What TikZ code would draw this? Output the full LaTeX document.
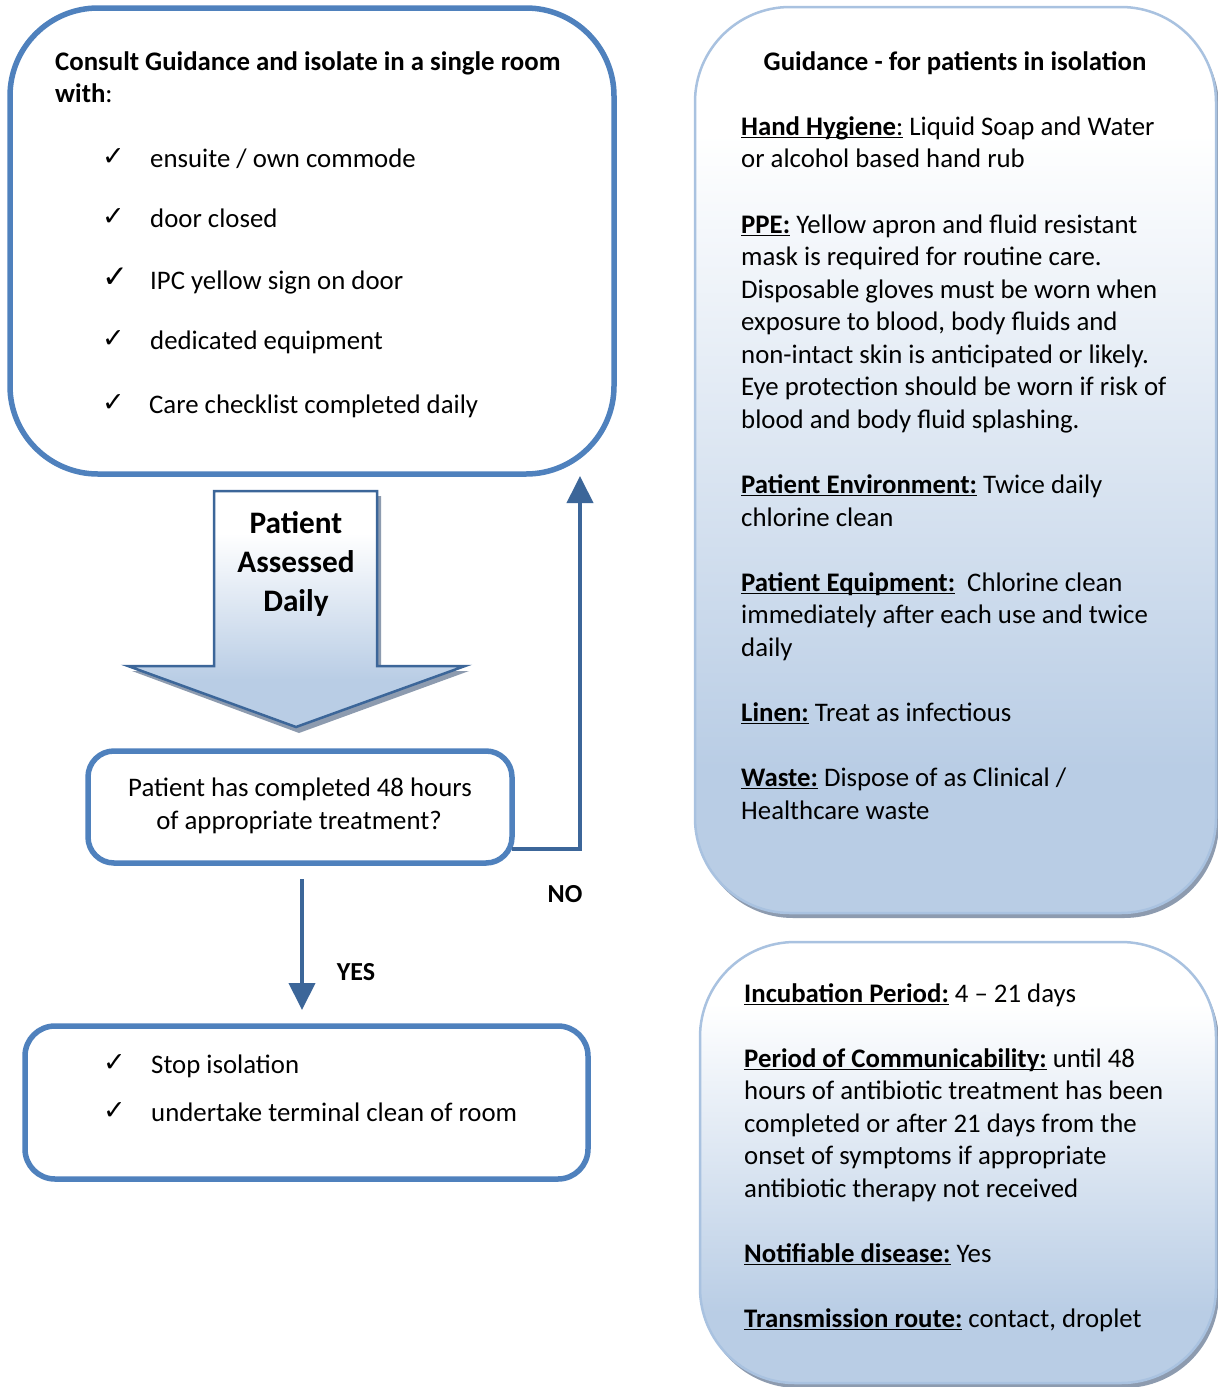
\documentclass[tikz,border=0pt]{standalone}
\usepackage{fontspec}
\setmainfont{Carlito}
\newfontfamily\symf{DejaVu Sans}
\usetikzlibrary{arrows.meta,calc}
\definecolor{boxblue}{HTML}{4F81BD}
\definecolor{arrblue}{HTML}{3C6699}
\definecolor{panelblue}{HTML}{B9CDE5}
\definecolor{panelline}{HTML}{A9C2E0}
\definecolor{shadowgray}{HTML}{8D9BAF}
\pgfdeclareverticalshading{panelshade}{100bp}{color(0bp)=(panelblue); color(25bp)=(panelblue); color(33bp)=(panelblue); color(68bp)=(white); color(75bp)=(white); color(100bp)=(white)}
\pgfdeclareverticalshading{arrowshade}{100bp}{color(0bp)=(panelblue); color(25bp)=(panelblue); color(35bp)=(panelblue); color(66bp)=(white); color(75bp)=(white); color(100bp)=(white)}
\newcommand\ulin[1]{\setbox0=\hbox{#1}\rlap{\rule[-3.4pt]{\wd0}{1.7pt}}\box0\relax}
\newcommand\chk{{\symf\fontsize{27}{27}\selectfont ✓}}
\tikzset{
  txt/.style={anchor=base west, inner sep=0pt, font=\fontsize{26.8}{32}\selectfont},
  ctxt/.style={anchor=base, inner sep=0pt, font=\fontsize{26.8}{32}\selectfont},
  btxt/.style={anchor=base, inner sep=0pt, font=\bfseries\fontsize{31.3}{38}\selectfont},
  lbl/.style={anchor=base, inner sep=0pt, font=\bfseries\fontsize{26}{30}\selectfont},
  ck/.style={anchor=base west, inner sep=0pt},
  bluebox/.style={draw=boxblue, line width=5.5pt, fill=white, rectangle, inner sep=0pt},
  panel/.style={draw=panelline, line width=2.5pt, shading=panelshade},
  arr/.style={draw=arrblue, line width=4pt, -{Triangle[width=26pt,length=27pt]}}
}
\begin{document}
\begin{tikzpicture}[x=1pt,y=-1pt]
\useasboundingbox (0,0) rectangle (1218,1387);
\fill[white] (0,0) rectangle (1218,1387);

% ---------- right panels ----------
\fill[shadowgray, rounded corners=95pt] (698,12) rectangle (1219,918);
\path[panel, rounded corners=95pt] (695,7) rectangle (1216,913);
\fill[shadowgray, rounded corners=95pt] (703,947) rectangle (1219,1388);
\path[panel, rounded corners=95pt] (700,942) rectangle (1216,1383);

% guidance text
\node[ctxt, font=\bfseries\fontsize{26.8}{32}\selectfont] (gt) at (955,70) {Guidance - for patients in isolation};
\node[txt] (g1) at (741,135) {\ulin{\textbf{Hand Hygiene}:} Liquid Soap and Water};
\node[txt] (g2) at (741,167) {or alcohol based hand rub};
\node[txt] (g3) at (741,233) {\ulin{\textbf{PPE:}} Yellow apron and fluid resistant};
\node[txt] (g4) at (741,265) {mask is required for routine care.};
\node[txt] (g5) at (741,298) {Disposable gloves must be worn when};
\node[txt] (g6) at (741,330) {exposure to blood, body fluids and};
\node[txt] (g7) at (741,363) {non-intact skin is anticipated or likely.};
\node[txt] (g8) at (741,395) {Eye protection should be worn if risk of};
\node[txt] (g9) at (741,428) {blood and body fluid splashing.};
\node[txt] (g10) at (741,493) {\ulin{\textbf{Patient Environment:}} Twice daily};
\node[txt] (g11) at (741,526) {chlorine clean};
\node[txt] (g12) at (741,591) {\ulin{\textbf{Patient Equipment:}}\ \ Chlorine clean};
\node[txt] (g13) at (741,623) {immediately after each use and twice};
\node[txt] (g14) at (741,656) {daily};
\node[txt] (g15) at (741,721) {\ulin{\textbf{Linen:}} Treat as infectious};
\node[txt] (g16) at (741,786) {\ulin{\textbf{Waste:}} Dispose of as Clinical /};
\node[txt] (g17) at (741,819) {Healthcare waste};

% disease info text
\node[txt] (d1) at (744,1002) {\ulin{\textbf{Incubation Period:}} 4 -- 21 days};
\node[txt] (d2) at (744,1067) {\ulin{\textbf{Period of Communicability:}} until 48};
\node[txt] (d3) at (744,1099) {hours of antibiotic treatment has been};
\node[txt] (d4) at (744,1132) {completed or after 21 days from the};
\node[txt] (d5) at (744,1164) {onset of symptoms if appropriate};
\node[txt] (d6) at (744,1197) {antibiotic therapy not received};
\node[txt] (d7) at (744,1262) {\ulin{\textbf{Notifiable disease:}} Yes};
\node[txt] (d8) at (744,1327) {\ulin{\textbf{Transmission route:}} contact, droplet};

% ---------- top-left box ----------
\path[bluebox, rounded corners=88pt] (10,8) rectangle (614,474);
\node[txt, font=\bfseries\fontsize{26.8}{32}\selectfont] (c1) at (55,70) {Consult Guidance and isolate in a single room};
\node[txt] (c2) at (55,102) {\textbf{with}:};
\node[ck] (k1) at (102,165) {\chk};
\node[txt] (i1) at (150,167) {ensuite / own commode};
\node[ck] (k2) at (102,225) {\chk};
\node[txt] (i2) at (150,227) {door closed};
\node[ck, scale=1.15] (k3) at (102,287) {\chk};
\node[txt] (i3) at (150,289) {IPC yellow sign on door};
\node[ck] (k4) at (102,347) {\chk};
\node[txt] (i4) at (150,349) {dedicated equipment};
\node[ck] (k5) at (102,411) {\chk};
\node[txt] (i5) at (149,413) {Care checklist completed daily};

% ---------- block arrow ----------
\fill[shadowgray] (218,496) -- (381,496) -- (381,671) -- (469,671) -- (299,733) -- (132,671) -- (218,671) -- cycle;
\path[draw=arrblue, line width=2.5pt, shading=arrowshade, line join=miter] (214,491) -- (377,491) -- (377,666) -- (465,666) -- (296,727) -- (128,666) -- (214,666) -- cycle;
\node[btxt] (a1) at (296,533) {Patient};
\node[btxt] (a2) at (296,572) {Assessed};
\node[btxt] (a3) at (296,611) {Daily};

% ---------- decision box ----------
\path[bluebox, rounded corners=26pt] (88,751) rectangle (512,863);
\node[ctxt] (q1) at (300,796) {Patient has completed 48 hours};
\node[ctxt] (q2) at (299,829) {of appropriate treatment?};

% ---------- bottom box ----------
\path[bluebox, rounded corners=30pt] (25,1026) rectangle (588,1179);
\node[ck] (k6) at (103,1071) {\chk};
\node[txt] (s1) at (151,1073) {Stop isolation};
\node[ck] (k7) at (103,1119) {\chk};
\node[txt] (s2) at (151,1121) {undertake terminal clean of room};

% ---------- connectors ----------
\coordinate (noStart) at (512,849);
\coordinate (noEnd) at (580,476);
\draw[arr, line join=miter] (noStart) -| (noEnd);
\node[lbl] (no) at (565,902) {NO};

\coordinate (yesStart) at (302,879);
\coordinate (yesEnd) at (302,1010);
\draw[arr] (yesStart) -- (yesEnd);
\node[lbl] (yes) at (356,980) {YES};
\end{tikzpicture}
\end{document}
